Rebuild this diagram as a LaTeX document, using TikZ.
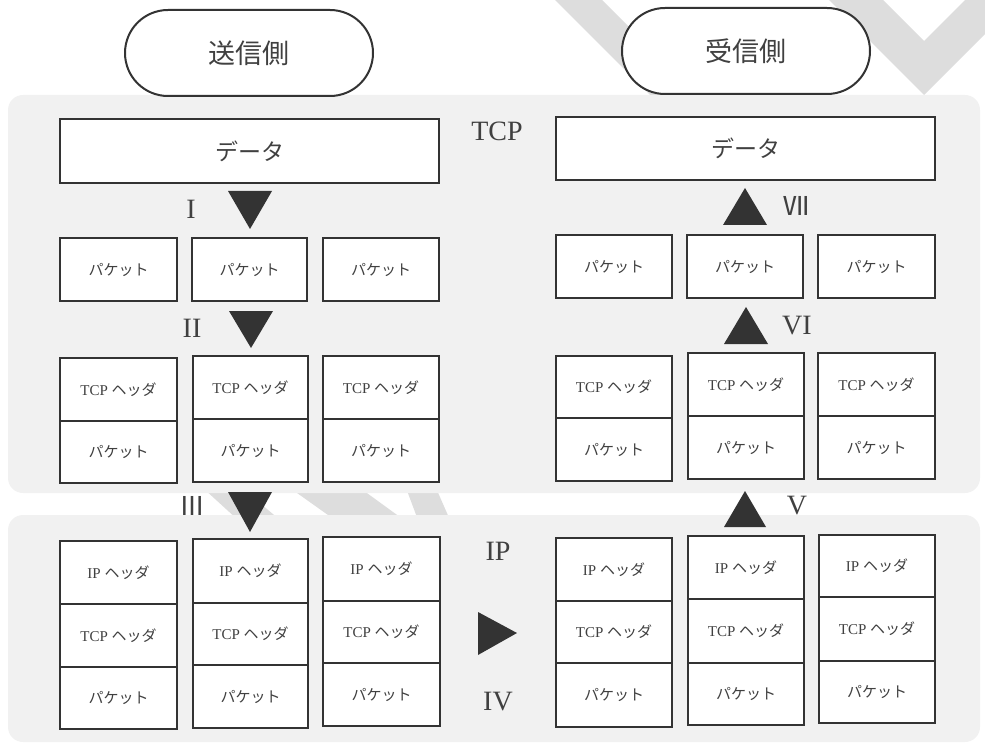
\documentclass[tikz,border=0pt]{standalone}
\usepackage{fontspec}
\setmainfont{Liberation Serif}
\newfontfamily\jp{Noto Sans CJK JP}
\definecolor{ink}{HTML}{333333}
\definecolor{txt}{HTML}{404040}
\definecolor{regionfill}{HTML}{F1F1F1}
\definecolor{wm}{HTML}{DDDDDD}
\tikzset{
 box/.style={draw=ink, line width=2pt, fill=white, inner sep=0pt, text=txt, font=\fontsize{15}{17}\selectfont},
 bigbox/.style={box, font=\jp\fontsize{23}{25}\selectfont},
 pill/.style={draw=ink, line width=2pt, fill=white, rounded corners=43pt, minimum width=248pt, minimum height=86pt, inner sep=0pt, text=txt, font=\jp\fontsize{27}{29}\selectfont},
 lbl/.style={text=txt, font=\fontsize{28}{30}\selectfont, inner sep=0pt},
 regionbg/.style={fill=regionfill, rounded corners=15pt},
 tri/.style={fill=ink},
 wmark/.style={fill=wm},
}
\newcommand\bx[6][box]{\node[#1, minimum width={(#4)-(#2)}, minimum height={(#5)-(#3)}] (#2n#3) at ({((#2)+(#4))/2},{((#3)+(#5))/2}) {#6};}
\newcommand\pkt{\jp パケット}
\newcommand\tcph{TCP {\jp ヘッダ}}
\newcommand\iph{IP {\jp ヘッダ}}
\begin{document}
\begin{tikzpicture}[x=1pt,y=-1pt]
\useasboundingbox (0,0) rectangle (985,743);
% watermark strokes
\fill[wmark] (553,-2) -- (600,-2) -- (760,158) -- (713,158) -- cycle;
\fill[wmark] (827,-2) -- (924,95) -- (1021,-2) -- (967,-2) -- (924,41) -- (881,-2) -- cycle;
\fill[wmark] (203,488) -- (242,488) -- (280,520) -- (238,520) -- cycle;
\fill[wmark] (290,488) -- (360,488) -- (404,520) -- (335,520) -- cycle;
\fill[wmark] (406,488) -- (436,488) -- (450,520) -- (418,520) -- cycle;
% layer regions
\fill[regionbg] (8,95) rectangle (980,493);
\fill[regionbg] (8,515) rectangle (980,742);
% sides
\node[pill] (send) at (249,53) {送信側};
\node[pill] (recv) at (746,51) {受信側};
% sender, TCP layer
\bx[bigbox]{60}{119}{439}{183}{データ}
\bx{60}{238}{177}{301}{\pkt}
\bx{192}{238}{307}{301}{\pkt}
\bx{323}{238}{439}{301}{\pkt}
\bx{60}{358}{177}{421}{\tcph}
\bx{60}{421}{177}{483}{\pkt}
\bx{193}{356}{308}{419}{\tcph}
\bx{193}{419}{308}{482}{\pkt}
\bx{323}{356}{439}{419}{\tcph}
\bx{323}{419}{439}{482}{\pkt}
% sender, IP layer
\bx{60}{541}{177}{604}{\iph}
\bx{60}{604}{177}{667}{\tcph}
\bx{60}{667}{177}{729}{\pkt}
\bx{193}{539}{308}{603}{\iph}
\bx{193}{603}{308}{665}{\tcph}
\bx{193}{665}{308}{728}{\pkt}
\bx{323}{537}{440}{601}{\iph}
\bx{323}{601}{440}{663}{\tcph}
\bx{323}{663}{440}{726}{\pkt}
% receiver, TCP layer
\bx[bigbox]{556}{117}{935}{180}{データ}
\bx{556}{235}{672}{298}{\pkt}
\bx{687}{235}{803}{298}{\pkt}
\bx{818}{235}{935}{298}{\pkt}
\bx{556}{356}{672}{418}{\tcph}
\bx{556}{418}{672}{481}{\pkt}
\bx{688}{353}{804}{416}{\tcph}
\bx{688}{416}{804}{479}{\pkt}
\bx{818}{353}{935}{416}{\tcph}
\bx{818}{416}{935}{479}{\pkt}
% receiver, IP layer
\bx{556}{538}{672}{601}{\iph}
\bx{556}{601}{672}{663}{\tcph}
\bx{556}{663}{672}{727}{\pkt}
\bx{688}{536}{804}{599}{\iph}
\bx{688}{599}{804}{663}{\tcph}
\bx{688}{663}{804}{725}{\pkt}
\bx{819}{535}{935}{597}{\iph}
\bx{819}{597}{935}{661}{\tcph}
\bx{819}{661}{935}{723}{\pkt}
% arrows
\fill[tri] (228,191) -- (272,191) -- (250,229) -- cycle;
\fill[tri] (229,311) -- (273,311) -- (251,348) -- cycle;
\fill[tri] (228,492) -- (272,492) -- (250,532) -- cycle;
\fill[tri] (478,612) -- (478,655) -- (517,633) -- cycle;
\fill[tri] (724,527) -- (766,527) -- (745,491) -- cycle;
\fill[tri] (724,344) -- (768,344) -- (746,307) -- cycle;
\fill[tri] (723,225) -- (767,225) -- (745,188) -- cycle;
% labels
\node[lbl] (tcp) at (497,131) {TCP};
\node[lbl] (ip) at (498,551) {IP};
\node[lbl] (n1) at (191,209) {I};
\node[lbl] (n2) at (192,328) {II};
\node[lbl, font=\jp\fontsize{26}{28}\selectfont] (n3) at (192,506) {Ⅲ};
\node[lbl] (n4) at (498,702) {IV};
\node[lbl] (n5) at (797,506) {V};
\node[lbl] (n6) at (797,326) {VI};
\node[lbl, font=\jp\fontsize{26}{28}\selectfont] (n7) at (796,206) {Ⅶ};
\end{tikzpicture}
\end{document}
